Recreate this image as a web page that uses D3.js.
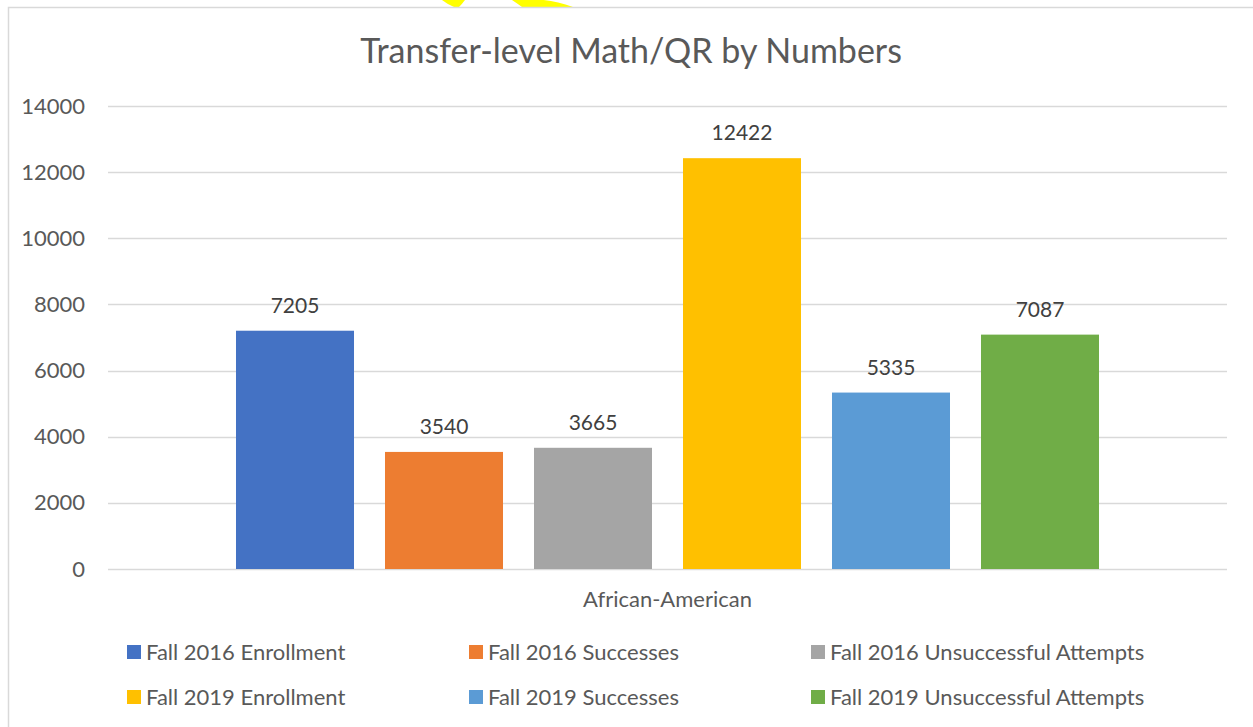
<!DOCTYPE html>
<html>
<head>
<meta charset="utf-8">
<script src="https://cdn.jsdelivr.net/npm/d3@7"></script>
<style>
  html, body { margin: 0; padding: 0; background: #fff; }
  svg text { font-family: Lato, "Open Sans", sans-serif; }
</style>
</head>
<body>
<div id="chart"></div>
<script>
const categories = ["African-American"];
const series = [
  "Fall 2016 Enrollment",
  "Fall 2016 Successes",
  "Fall 2016 Unsuccessful Attempts",
  "Fall 2019 Enrollment",
  "Fall 2019 Successes",
  "Fall 2019 Unsuccessful Attempts",
];
const values = [7205, 3540, 3665, 12422, 5335, 7087];
const colors = ["#4472c4", "#ed7d31", "#a5a5a5", "#ffc000", "#5b9bd5", "#70ad47"];
const yTicks = [0, 2000, 4000, 6000, 8000, 10000, 12000, 14000];
const chartTitle = "Transfer-level Math/QR by Numbers";

(() => {
  const width = 1253;
  const height = 727;
  const plot = { left: 108, right: 1227, top: 106, bottom: 569 };

  const svg = d3
    .select("#chart")
    .append("svg")
    .attr("width", width)
    .attr("height", height);

  // yellow scrap peeking over the top of the frame
  svg
    .append("path")
    .attr("d", "M442,0 L465,0 Q462,4 459,7 L454,7 Q447,4 442,0 Z")
    .attr("fill", "#ffff00");
  svg
    .append("path")
    .attr("d", "M512,0 L520,0 Q545,-3 573,7 L522,7 Q518,4 512,0 Z")
    .attr("fill", "#ffff00");

  // chart frame
  svg
    .append("rect")
    .attr("x", 8.5)
    .attr("y", 7.5)
    .attr("width", 1300)
    .attr("height", 800)
    .attr("fill", "#fff")
    .attr("stroke", "#d9d9d9")
    .attr("stroke-width", 1.5);

  svg
    .append("text")
    .attr("x", 631)
    .attr("y", 63)
    .attr("text-anchor", "middle")
    .attr("fill", "#595959")
    .style("font-size", "34px")
    .text(chartTitle);

  const y = d3.scaleLinear().domain([0, 14000]).range([plot.bottom, plot.top]);

  const x0 = d3
    .scaleBand()
    .domain(categories)
    .range([plot.left, plot.right]);

  const groupHalf = 447;
  const x1 = d3
    .scaleBand()
    .domain(series)
    .range([-groupHalf, groupHalf])
    .paddingInner(0.208)
    .paddingOuter(0.104);

  // gridlines
  svg
    .append("g")
    .selectAll("line")
    .data(yTicks)
    .join("line")
    .attr("x1", plot.left)
    .attr("x2", plot.right)
    .attr("y1", (d) => Math.round(y(d)) + 0.5)
    .attr("y2", (d) => Math.round(y(d)) + 0.5)
    .attr("stroke", "#d9d9d9")
    .attr("stroke-width", 1.3);

  // y axis labels
  const yAxis = d3
    .axisLeft(y)
    .tickValues(yTicks)
    .tickFormat(d3.format("d"))
    .tickSize(0)
    .tickPadding(0);
  const yG = svg
    .append("g")
    .attr("transform", `translate(${85},0)`)
    .call(yAxis);
  yG.select(".domain").remove();
  yG.selectAll("text")
    .attr("fill", "#595959")
    .style("font-size", "22px")
    .style("font-family", "Lato, sans-serif");

  const cx = x0(categories[0]) + x0.bandwidth() / 2;

  const bars = svg
    .append("g")
    .selectAll("g")
    .data(series.map((s, i) => ({ s, v: values[i], c: colors[i] })))
    .join("g");

  bars
    .append("rect")
    .attr("x", (d) => cx + x1(d.s))
    .attr("width", x1.bandwidth())
    .attr("y", (d) => y(d.v))
    .attr("height", (d) => y(0) - y(d.v))
    .attr("fill", (d) => d.c);

  bars
    .append("text")
    .attr("x", (d) => cx + x1(d.s) + x1.bandwidth() / 2)
    .attr("y", (d) => y(d.v) - 18)
    .attr("text-anchor", "middle")
    .attr("fill", "#404040")
    .style("font-size", "21px")
    .text((d) => d.v);

  // category label
  svg
    .append("text")
    .attr("x", cx)
    .attr("y", 607)
    .attr("text-anchor", "middle")
    .attr("fill", "#595959")
    .style("font-size", "22px")
    .text(categories[0]);

  // legend
  const legendCols = [127, 469, 811];
  const legendRows = [652, 697];
  const legend = svg
    .append("g")
    .selectAll("g")
    .data(series)
    .join("g")
    .attr(
      "transform",
      (d, i) => `translate(${legendCols[i % 3]},${legendRows[Math.floor(i / 3)]})`
    );

  legend
    .append("rect")
    .attr("x", 0)
    .attr("y", -7)
    .attr("width", 14)
    .attr("height", 14)
    .attr("fill", (d, i) => colors[i]);

  legend
    .append("text")
    .attr("x", 19)
    .attr("y", 8)
    .attr("fill", "#595959")
    .style("font-size", "22px")
    .text((d) => d);
})();
</script>
</body>
</html>
